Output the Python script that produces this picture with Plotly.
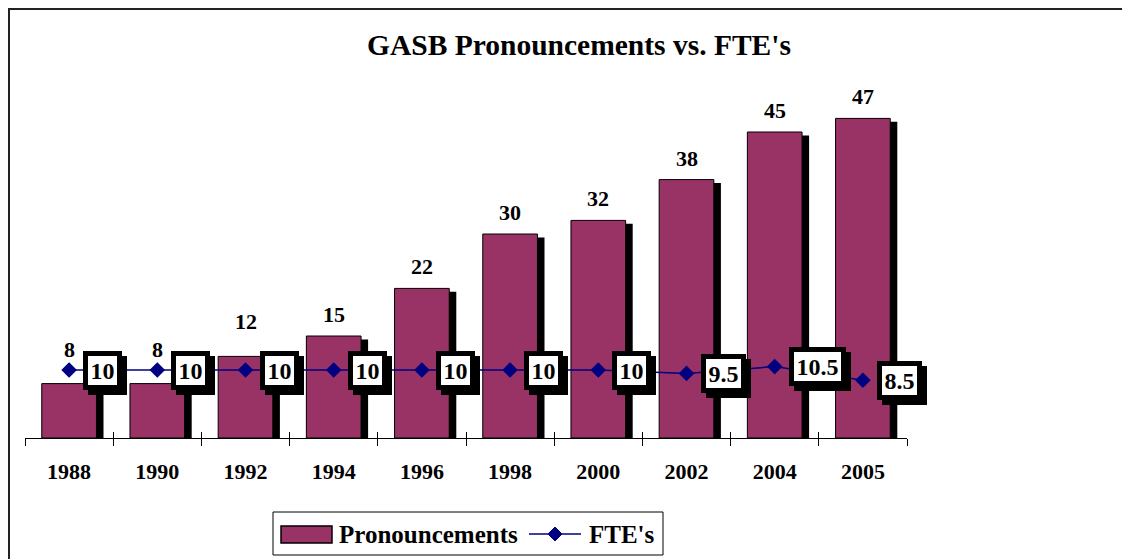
import plotly.graph_objects as go

# ---- data ----
years = ["1988", "1990", "1992", "1994", "1996", "1998", "2000", "2002", "2004", "2005"]
pronouncements = [8, 8, 12, 15, 22, 30, 32, 38, 45, 47]
fte = [10, 10, 10, 10, 10, 10, 10, 9.5, 10.5, 8.5]
fte_labels = ["10", "10", "10", "10", "10", "10", "10", "9.5", "10.5", "8.5"]
series_names = ["Pronouncements", "FTE's"]
title_text = "GASB Pronouncements vs. FTE's"

# ---- styles ----
BAR_COLOR = "#993366"
LINE_COLOR = "#000080"
FONT = "Liberation Serif, Times New Roman, serif"
label_shift = [20, 20, 20, 7, 7, 7, 7, 7, 7, 7]  # px above bar top
BAR_W = 0.62
SHADOW_DX = 0.08   # category units
SHADOW_DY = 0.5    # value units

W, H = 1130, 559
ML, MR, MT, MB = 17, 231, 90, 129
PW, PH = W - ML - MR, H - MT - MB
OFF = 8  # page body margin


def px(xpage):
    return (xpage - OFF - ML) / PW


def py(ypage):
    return (H - MB - (ypage - OFF)) / PH


def box_width(t):
    return sum(12 if c.isdigit() else 6 for c in t) + 3


idx = list(range(len(years)))

fig = go.Figure()

# bar shadows
fig.add_trace(go.Bar(
    x=years, y=[v - SHADOW_DY for v in pronouncements],
    width=BAR_W, offset=-BAR_W / 2 + SHADOW_DX,
    marker=dict(color="black", line=dict(width=0)),
    showlegend=False, hoverinfo="skip",
))
# bars
fig.add_trace(go.Bar(
    x=years, y=pronouncements, name=series_names[0],
    width=BAR_W, offset=-BAR_W / 2,
    marker=dict(color=BAR_COLOR, line=dict(color="black", width=1)),
    showlegend=False,
))
# FTE line
fig.add_trace(go.Scatter(
    x=years, y=fte, name=series_names[1], mode="lines+markers",
    line=dict(color=LINE_COLOR, width=1.5),
    marker=dict(symbol="diamond", size=12, color=LINE_COLOR),
    showlegend=False,
))
# invisible trace to carry the inside-ticks axis
fig.add_trace(go.Scatter(
    x=years, y=fte, xaxis="x2", mode="markers",
    marker=dict(opacity=0), showlegend=False, hoverinfo="skip",
))

annotations = []
for i, v, s in zip(idx, pronouncements, label_shift):
    annotations.append(dict(
        x=i, y=v, xref="x", yref="y", text=f"<b>{v}</b>", showarrow=False,
        yanchor="bottom", yshift=s, font=dict(family=FONT, size=22, color="black"),
    ))
for i, v, t in zip(idx, fte, fte_labels):
    common = dict(x=i, y=v, xref="x", yref="y", showarrow=False,
                  xanchor="left", yanchor="middle", borderwidth=5, borderpad=1,
                  width=box_width(t), height=27, bordercolor="black",
                  font=dict(family=FONT, size=24, color="black"))
    # shadow box (no text)
    annotations.append(dict(common, text=" ", xshift=19, yshift=-5, bgcolor="black"))
    # label box
    annotations.append(dict(common, text=f"<b>{t}</b>", xshift=14, bgcolor="white"))

# ---- custom legend ----
annotations.append(dict(x=px(337), y=py(534), xref="paper", yref="paper",
                        text=f"<b>{series_names[0]}</b>", showarrow=False,
                        xanchor="left", yanchor="middle",
                        font=dict(family=FONT, size=25, color="black")))
annotations.append(dict(x=px(587), y=py(534), xref="paper", yref="paper",
                        text=f"<b>{series_names[1]}</b>", showarrow=False,
                        xanchor="left", yanchor="middle",
                        font=dict(family=FONT, size=25, color="black")))

shapes = [
    # outer chart border
    dict(type="rect", xref="paper", yref="paper",
         x0=px(9), x1=1.6, y0=-1.0, y1=py(9),
         line=dict(color="#222222", width=2), layer="below"),
    # legend frame
    dict(type="rect", xref="paper", yref="paper",
         x0=px(273), x1=px(663), y0=py(555), y1=py(512),
         line=dict(color="black", width=1), fillcolor="white", layer="below"),
    # legend swatch
    dict(type="rect", xref="paper", yref="paper",
         x0=px(281), x1=px(332), y0=py(543), y1=py(526),
         line=dict(color="black", width=1.5), fillcolor=BAR_COLOR),
    # legend line
    dict(type="line", xref="paper", yref="paper",
         x0=px(529), x1=px(581), y0=py(534), y1=py(534),
         line=dict(color=LINE_COLOR, width=1.5)),
    # legend diamond
    dict(type="path", xref="paper", yref="paper",
         xsizemode="pixel", ysizemode="pixel",
         xanchor=px(555), yanchor=py(534),
         path="M-7,0 L0,7 L7,0 L0,-7 Z",
         fillcolor=LINE_COLOR, line=dict(color=LINE_COLOR, width=1)),
]

fig.update_layout(
    width=W, height=H,
    margin=dict(l=ML, r=MR, t=MT, b=MB, autoexpand=False),
    paper_bgcolor="white", plot_bgcolor="white",
    barmode="overlay",
    title=dict(text=f"<b>{title_text}</b>",
               font=dict(family=FONT, size=29.5, color="black"),
               x=px(579), xref="paper", xanchor="center",
               y=1 - (45 - OFF) / H, yref="container", yanchor="middle"),
    xaxis=dict(type="category", categoryorder="array", categoryarray=years,
               range=[-0.5, 9.5], tickson="boundaries", ticks="outside", ticklen=7,
               tickcolor="black", showline=True, linecolor="black", linewidth=1,
               showgrid=False, ticklabelstandoff=14,
               tickfont=dict(family=FONT, size=22, color="black"),
               tickprefix="<b>", ticksuffix="</b>"),
    xaxis2=dict(type="category", categoryorder="array", categoryarray=years,
                range=[-0.5, 9.5], tickson="boundaries", ticks="inside", ticklen=6,
                tickcolor="black", showline=False, showgrid=False,
                showticklabels=False, overlaying="x", side="bottom", anchor="y"),
    yaxis=dict(range=[0, 50], visible=False, showgrid=False, zeroline=False),
    annotations=annotations,
    shapes=shapes,
    showlegend=False,
)

fig.write_html("out.html")
